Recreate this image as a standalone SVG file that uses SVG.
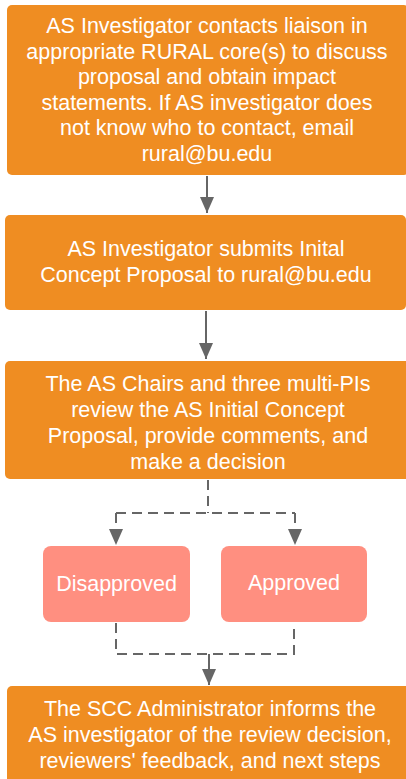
<svg xmlns="http://www.w3.org/2000/svg" width="406" height="779" viewBox="0 0 406 779">
<style>
.box{fill:#EF8D22}
.dec{fill:#FF8F80}
.t{font-family:"Liberation Sans",Arial,sans-serif;font-size:21.5px;fill:#ffffff;text-anchor:middle}
.c{stroke:#666666;stroke-width:2;fill:none}
.d{stroke-dasharray:10,6}
</style>
<defs>
<marker id="ah" viewBox="0 0 16 14" refX="16" refY="7" markerWidth="16" markerHeight="14" markerUnits="userSpaceOnUse" orient="auto">
<path d="M0,0 L16,7 L0,14 Z" fill="#666666"/>
</marker>
</defs>
<g id="connectors">
<path class="c" d="M207,176 V213" marker-end="url(#ah)"/>
<path class="c" d="M206,311 V359" marker-end="url(#ah)"/>
<path class="c d" d="M208,480 V513"/>
<path class="c d" d="M116,513 H295"/>
<path class="c d" d="M116,513 V545" marker-end="url(#ah)"/>
<path class="c d" d="M295,513 V545" marker-end="url(#ah)"/>
<path class="c d" d="M116,623 V654 H294 V623"/>
<path class="c" d="M209,654 V685" marker-end="url(#ah)"/>
</g>
<g id="n1">
<rect class="box" x="7" y="5" width="402" height="170" rx="5"/>
<text class="t" x="207" y="33">AS Investigator contacts liaison in</text>
<text class="t" x="207" y="59">appropriate RURAL core(s) to discuss</text>
<text class="t" x="207" y="84">proposal and obtain impact</text>
<text class="t" x="207" y="110">statements. If AS investigator does</text>
<text class="t" x="207" y="135">not know who to contact, email</text>
<text class="t" x="207" y="161">rural@bu.edu</text>
</g>
<g id="n2">
<rect class="box" x="5" y="215" width="401" height="95" rx="5"/>
<text class="t" x="206" y="256">AS Investigator submits Inital</text>
<text class="t" x="206" y="282">Concept Proposal to rural@bu.edu</text>
</g>
<g id="n3">
<rect class="box" x="5" y="361" width="406" height="118" rx="5"/>
<text class="t" x="208" y="391">The AS Chairs and three multi-PIs</text>
<text class="t" x="208" y="417">review the AS Initial Concept</text>
<text class="t" x="208" y="443">Proposal, provide comments, and</text>
<text class="t" x="208" y="469">make a decision</text>
</g>
<g id="n4">
<rect class="dec" x="43" y="546" width="147" height="76" rx="8"/>
<text class="t" x="116.5" y="591">Disapproved</text>
</g>
<g id="n5">
<rect class="dec" x="221" y="546" width="146" height="76" rx="8"/>
<text class="t" x="294" y="590">Approved</text>
</g>
<g id="n6">
<rect class="box" x="7" y="686" width="406" height="100" rx="5"/>
<text class="t" x="210" y="716">The SCC Administrator informs the</text>
<text class="t" x="210" y="742">AS investigator of the review decision,</text>
<text class="t" x="210" y="768">reviewers' feedback, and next steps</text>
</g>
</svg>
